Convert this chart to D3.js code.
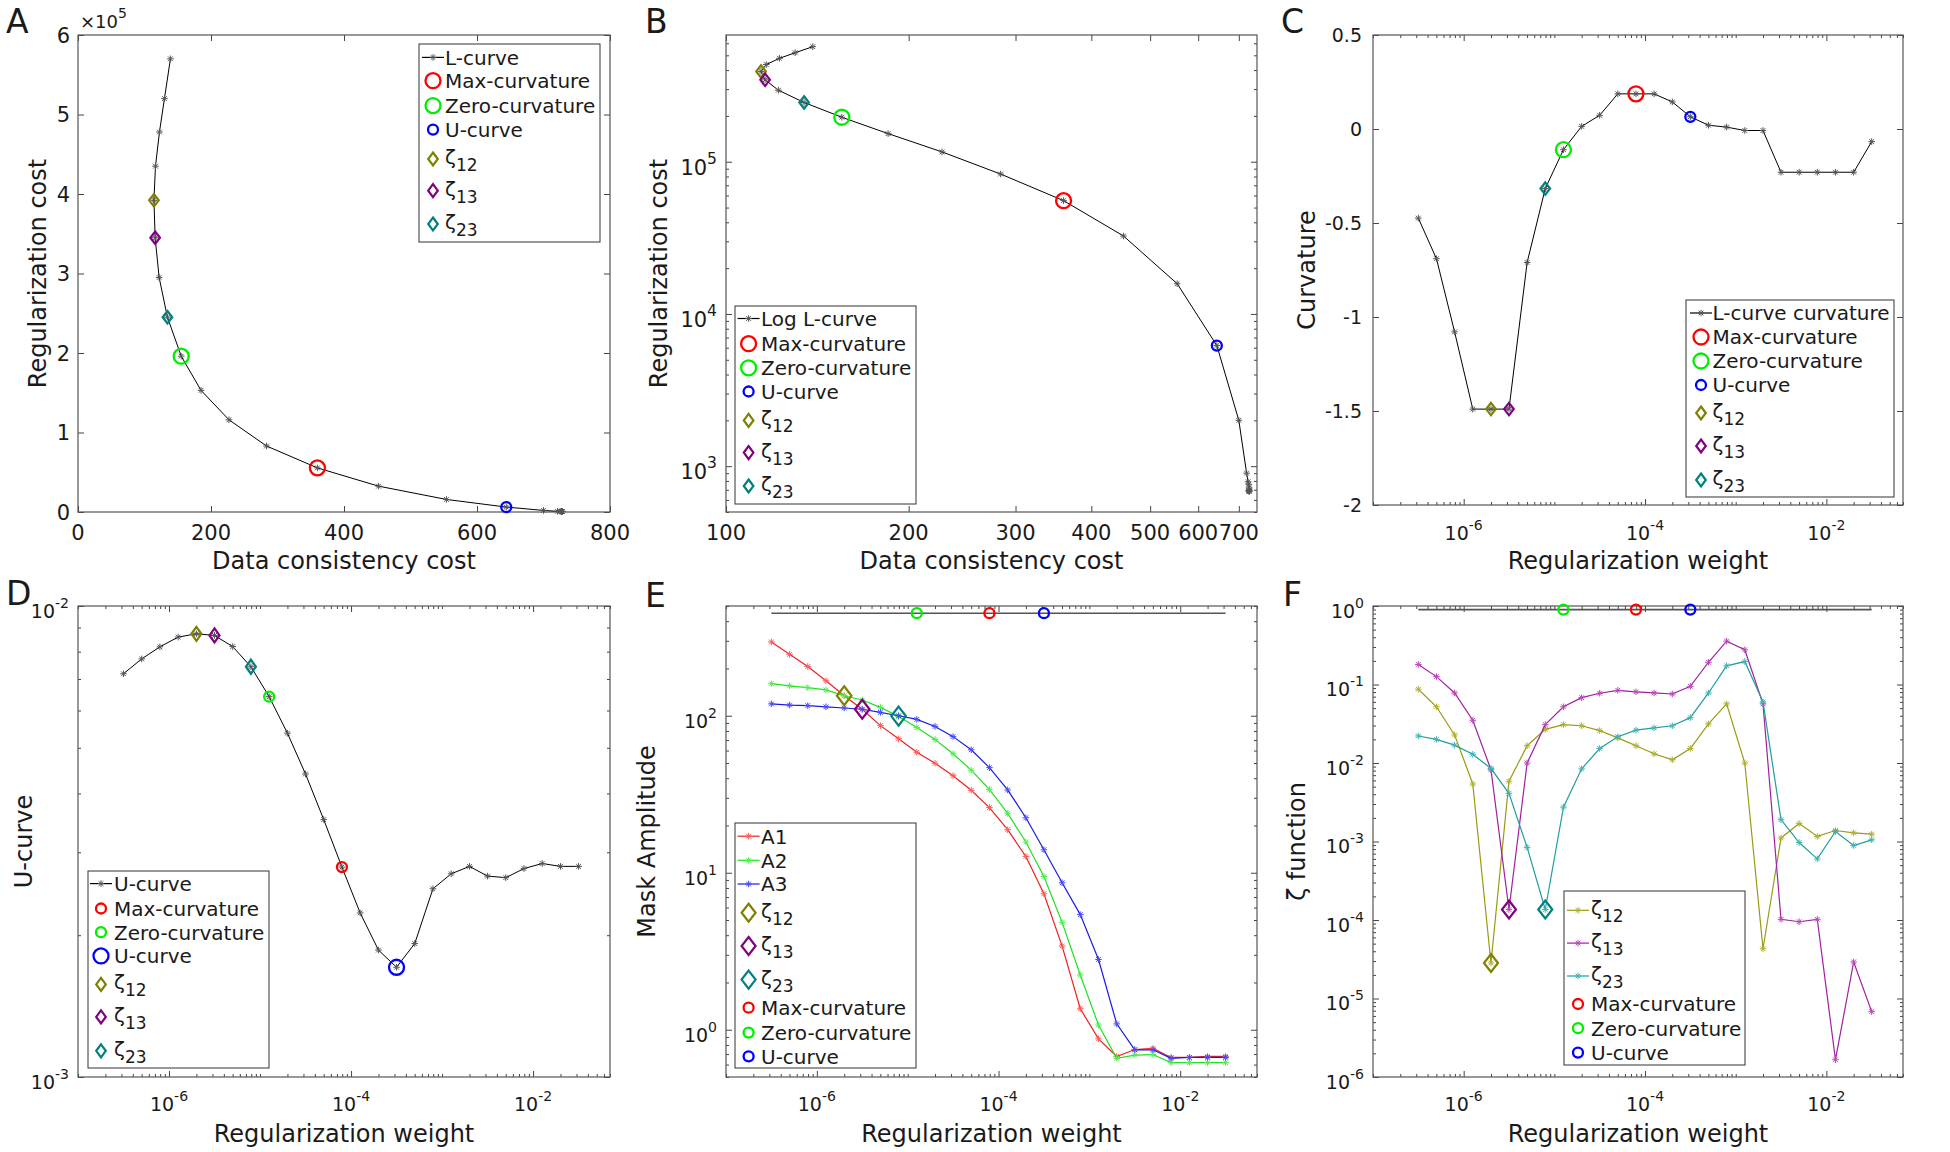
<!DOCTYPE html>
<html><head><meta charset="utf-8">
<script src="https://cdn.jsdelivr.net/npm/d3@7"></script>
<style>
body{margin:0;background:#fff}
text{font-family:"DejaVu Sans",sans-serif;fill:#1a1a1a}
</style>
</head><body>
<svg id="chart" width="1950" height="1152"></svg>
<script>
// ---------------- data ----------------
const weights = [3.16e-7, 5.01e-7, 7.94e-7, 1.26e-6, 2.00e-6, 3.16e-6, 5.01e-6, 7.94e-6, 1.26e-5, 2.00e-5, 3.16e-5, 5.01e-5, 7.94e-5, 1.26e-4, 2.00e-4, 3.16e-4, 5.01e-4, 7.94e-4, 1.26e-3, 2.00e-3, 3.16e-3, 5.01e-3, 7.94e-3, 1.26e-2, 2.00e-2, 3.16e-2];
const dataCost = [139, 130, 122.5, 116.5, 114.2, 116, 122, 134.5, 155.2, 185, 227, 283.5, 360, 452, 554, 644, 700, 721, 725, 727, 728, 728, 728, 727, 728, 728];
const regCost = [5.70e5, 5.20e5, 4.78e5, 4.35e5, 3.92e5, 3.45e5, 2.95e5, 2.45e5, 1.96e5, 1.53e5, 1.16e5, 8.3e4, 5.55e4, 3.25e4, 1.58e4, 6.2e3, 2.0e3, 900, 790, 760, 720, 700, 685, 690, 680, 690];
const curvature = [-0.474, -0.69, -1.079, -1.49, -1.49, -1.49, -0.71, -0.317, -0.11, 0.014, 0.073, 0.187, 0.187, 0.187, 0.144, 0.065, 0.02, 0.01, -0.008, -0.008, -0.23, -0.23, -0.23, -0.23, -0.23, -0.067];
const uCurve = [0.00718, 0.00772, 0.00819, 0.00859, 0.00873, 0.00866, 0.0082, 0.00743, 0.00642, 0.00537, 0.0044, 0.00352, 0.00279, 0.00223, 0.00186, 0.00171, 0.00192, 0.00251, 0.0027, 0.0028, 0.00267, 0.00265, 0.00277, 0.00284, 0.0028, 0.0028];
const ampA1 = [295, 246, 206, 167, 134, 110, 86.5, 71.3, 58.5, 49.8, 41.5, 33.5, 26.0, 18.8, 12.7, 7.35, 3.41, 1.36, 0.875, 0.676, 0.748, 0.76, 0.666, 0.666, 0.676, 0.676];
const ampA2 = [160, 155, 151, 146, 134, 126, 113, 98.9, 84.2, 70.6, 57.3, 45, 33.9, 23.9, 15.7, 9.46, 4.83, 2.23, 1.07, 0.658, 0.69, 0.695, 0.617, 0.617, 0.617, 0.617];
const ampA3 = [119, 117, 116, 114, 112, 110, 105, 100, 94.8, 85.5, 73.6, 60.7, 46.7, 33.7, 22.4, 14, 8.63, 5.41, 2.8, 1.09, 0.745, 0.745, 0.658, 0.666, 0.666, 0.666];
const zeta12 = [0.087, 0.052, 0.0228, 0.0054, 2.83e-5, 0.00585, 0.0166, 0.0268, 0.0308, 0.0298, 0.0259, 0.0209, 0.0166, 0.0131, 0.011, 0.0153, 0.0315, 0.0567, 0.01, 4.3e-5, 0.00111, 0.00169, 0.00116, 0.00138, 0.00129, 0.00124];
const zeta13 = [0.18, 0.126, 0.078, 0.035, 0.0082, 1.36e-4, 0.01, 0.0308, 0.052, 0.068, 0.0773, 0.0843, 0.0807, 0.078, 0.0757, 0.0948, 0.192, 0.357, 0.277, 0.0567, 1.02e-4, 9.5e-5, 1.02e-4, 1.66e-6, 2.92e-5, 6.8e-6];
const zeta23 = [0.0221, 0.02, 0.0169, 0.0129, 0.0085, 0.00411, 8.4e-4, 1.36e-4, 0.00274, 0.00843, 0.0153, 0.0216, 0.0262, 0.028, 0.0298, 0.0378, 0.078, 0.173, 0.196, 0.0598, 0.0019, 9.7e-4, 6e-4, 0.00134, 8.9e-4, 0.00105];
// selected indices
const iZeta12 = 4, iZeta13 = 5, iZeta23 = 7, iZero = 8, iMax = 12, iU = 15;
const markerLevelE = 450, markerLevelF = 0.9;
// tick labels
const ticksA_x = [0, 200, 400, 600, 800];
const ticksA_y = [0, 1, 2, 3, 4, 5, 6];
const ticksB_x = [100, 200, 300, 400, 500, 600, 700];
const ticksB_y = [1e3, 1e4, 1e5];
const ticksC_y = [0.5, 0, -0.5, -1, -1.5, -2];
const ticksW = [1e-6, 1e-4, 1e-2];
const ticksD_y = [1e-3, 1e-2];
const ticksE_y = [1, 10, 100];
const ticksF_y = [1e-6, 1e-5, 1e-4, 1e-3, 1e-2, 1e-1, 1];

// ---------------- styles ----------------
const RED = '#ff0000', GREEN = '#00ee00', BLUE = '#0000ff';
const OLIVE = '#808000', PURPLE = '#800080', TEAL = '#008080';
const svg = d3.select('#chart');

function logMinor(dom, majors) {
  const out = [];
  const a = Math.min(dom[0], dom[1]), b = Math.max(dom[0], dom[1]);
  for (let e = Math.floor(Math.log10(a)); e <= Math.ceil(Math.log10(b)); e++)
    for (let k = 1; k < 10; k++) {
      const v = k * Math.pow(10, e);
      if (v >= a * 0.999 && v <= b * 1.001 && !majors.some(m => Math.abs(m - v) / v < 1e-6)) out.push(v);
    }
  return out;
}

function panel(box, xType, xDom, yType, yDom) {
  const xs = (xType === 'log' ? d3.scaleLog() : d3.scaleLinear()).domain(xDom).range([box.x0, box.x1]);
  const ys = (yType === 'log' ? d3.scaleLog() : d3.scaleLinear()).domain(yDom).range([box.y1, box.y0]);
  const g = svg.append('g');
  return { g, xs, ys, box };
}

function frame(p, xMaj, xMin, yMaj, yMin) {
  const { g, xs, ys, box } = p;
  const mk = (fn, sc, vals, size, tx, ty) => {
    if (!vals.length) return;
    const a = g.append('g').attr('transform', `translate(${tx},${ty})`)
      .call(fn(sc).tickValues(vals).tickSize(size).tickFormat(''));
    a.select('.domain').remove();
    a.selectAll('text').remove();
    a.selectAll('line').attr('stroke', '#444').attr('stroke-width', 1);
  };
  mk(d3.axisBottom, xs, xMaj, -6, 0, box.y1);
  mk(d3.axisTop, xs, xMaj, -6, 0, box.y0);
  mk(d3.axisBottom, xs, xMin, -3, 0, box.y1);
  mk(d3.axisTop, xs, xMin, -3, 0, box.y0);
  mk(d3.axisLeft, ys, yMaj, -6, box.x0, 0);
  mk(d3.axisRight, ys, yMaj, -6, box.x1, 0);
  mk(d3.axisLeft, ys, yMin, -3, box.x0, 0);
  mk(d3.axisRight, ys, yMin, -3, box.x1, 0);
  g.append('rect').attr('x', box.x0).attr('y', box.y0).attr('width', box.x1 - box.x0).attr('height', box.y1 - box.y0)
    .attr('fill', 'none').attr('stroke', '#555').attr('stroke-width', 1.2);
}

function powText(g, x, y, exp, anchor, fs) {
  const t = g.append('text').attr('x', x).attr('y', y).attr('text-anchor', anchor).attr('font-size', fs);
  t.append('tspan').text('10');
  t.append('tspan').attr('dy', -fs * 0.52).attr('font-size', fs * 0.74).text(exp);
  return t;
}
const expOf = v => String(Math.round(Math.log10(v)));

function xLabelsLog(p, vals, base, fs) { vals.forEach(v => powText(p.g, p.xs(v), base, expOf(v), 'middle', fs)); }
function yLabelsLog(p, vals, fs, gap) { vals.forEach(v => powText(p.g, p.box.x0 - gap, p.ys(v) + fs * 0.62, expOf(v), 'end', fs)); }
function xLabelsLin(p, vals, base, fs, fmt) {
  vals.forEach(v => p.g.append('text').attr('x', p.xs(v)).attr('y', base).attr('text-anchor', 'middle').attr('font-size', fs).text(fmt ? fmt(v) : v));
}
function yLabelsLin(p, vals, fs, gap, fmt) {
  vals.forEach(v => p.g.append('text').attr('x', p.box.x0 - gap).attr('y', p.ys(v) + fs * 0.36).attr('text-anchor', 'end').attr('font-size', fs).text(fmt ? fmt(v) : v));
}
function axisTitles(p, xTitle, xBase, yTitle, yBase) {
  const b = p.box;
  const xt = p.g.append('text').attr('x', (b.x0 + b.x1) / 2).attr('y', xBase).attr('text-anchor', 'middle').attr('font-size', 24);
  xt.text(xTitle);
  p.g.append('text').attr('transform', `translate(${yBase},${(b.y0 + b.y1) / 2}) rotate(-90)`)
    .attr('text-anchor', 'middle').attr('font-size', 24).text(yTitle);
}
function letter(t, x, y) { svg.append('text').attr('x', x).attr('y', y).attr('font-size', 33).text(t); }

function star(g, x, y, c, r) {
  r = r || 3.3; const d = r * 0.72;
  g.append('path').attr('d', `M${x - r},${y}L${x + r},${y}M${x},${y - r}L${x},${y + r}M${x - d},${y - d}L${x + d},${y + d}M${x - d},${y + d}L${x + d},${y - d}`)
    .attr('stroke', c).attr('stroke-width', 1).attr('fill', 'none');
}
function circ(g, x, y, r, c) {
  g.append('circle').attr('cx', x).attr('cy', y).attr('r', r).attr('fill', 'none').attr('stroke', c).attr('stroke-width', 2.3);
}
function diam(g, x, y, hw, hh, c) {
  g.append('path').attr('d', `M${x},${y - hh}L${x + hw},${y}L${x},${y + hh}L${x - hw},${y}Z`)
    .attr('fill', 'none').attr('stroke', c).attr('stroke-width', 2.2);
}
function series(p, xv, yv, color, starColor, w) {
  const pts = xv.map((x, i) => [p.xs(x), p.ys(yv[i])]);
  p.g.append('path').attr('d', d3.line()(pts)).attr('fill', 'none').attr('stroke', color).attr('stroke-width', w || 1);
  pts.forEach(([x, y]) => star(p.g, x, y, starColor));
}
function sym(g, s, x, y) {
  if (s.t === 'line') {
    g.append('line').attr('x1', x - 11).attr('x2', x + 11).attr('y1', y).attr('y2', y).attr('stroke', s.c).attr('stroke-width', 1.2);
    star(g, x, y, s.sc || s.c);
  } else if (s.t === 'circle') circ(g, x, y, s.r, s.c);
  else diam(g, x, y, s.hw, s.hh, s.c);
}
function legend(p, box, sx, tx, rows) {
  const g = p.g;
  g.append('rect').attr('x', box[0]).attr('y', box[1]).attr('width', box[2] - box[0]).attr('height', box[3] - box[1])
    .attr('fill', '#fff').attr('stroke', '#333').attr('stroke-width', 1);
  rows.forEach(r => {
    sym(g, r.s, sx, r.y);
    if (r.sub) {
      const t = g.append('text').attr('x', tx).attr('y', r.y + 5).attr('font-size', 20);
      t.append('tspan').text(r.label);
      t.append('tspan').attr('dy', 7).attr('font-size', 17).text(r.sub);
    } else {
      g.append('text').attr('x', tx).attr('y', r.y + 7.3).attr('font-size', 20).text(r.label);
    }
  });
}
// standard marker sets
const bigC = r => ({ t: 'circle', r: 7.5, c: r });
const smallC = r => ({ t: 'circle', r: 5, c: r });
const dm = (c, hw, hh) => ({ t: 'diamond', c, hw: hw || 4.8, hh: hh || 6.5 });

function markPoints(p, xv, yv, circles, dsize) {
  diam(p.g, p.xs(xv[iZeta12]), p.ys(yv[iZeta12]), dsize[0], dsize[1], OLIVE);
  diam(p.g, p.xs(xv[iZeta13]), p.ys(yv[iZeta13]), dsize[0], dsize[1], PURPLE);
  diam(p.g, p.xs(xv[iZeta23]), p.ys(yv[iZeta23]), dsize[0], dsize[1], TEAL);
  circ(p.g, p.xs(xv[iMax]), p.ys(yv[iMax]), circles.max, RED);
  circ(p.g, p.xs(xv[iZero]), p.ys(yv[iZero]), circles.zero, GREEN);
  circ(p.g, p.xs(xv[iU]), p.ys(yv[iU]), circles.u, BLUE);
}

// ================= Panel A =================
const A = panel({ x0: 78, x1: 610, y0: 35, y1: 512 }, 'lin', [0, 800], 'lin', [0, 6e5]);
frame(A, ticksA_x, [], ticksA_y.map(v => v * 1e5), []);
xLabelsLin(A, ticksA_x, 540, 21);
ticksA_y.forEach(v => A.g.append('text').attr('x', A.box.x0 - 8).attr('y', A.ys(v * 1e5) + 7.5).attr('text-anchor', 'end').attr('font-size', 21).text(v));
{
  const t = A.g.append('text').attr('x', 80).attr('y', 28).attr('font-size', 18);
  t.append('tspan').text('×10');
  t.append('tspan').attr('dy', -10).attr('font-size', 14).text('5');
}
axisTitles(A, 'Data consistency cost', 569, 'Regularization cost', 46);
series(A, dataCost, regCost, '#000', '#555', 1);
markPoints(A, dataCost, regCost, { max: 7.5, zero: 7.5, u: 5 }, [4.8, 6.2]);
legend(A, [419, 44, 600, 242], 433, 445, [
  { y: 57.4, s: { t: 'line', c: '#000', sc: '#555' }, label: 'L-curve' },
  { y: 80.7, s: bigC(RED), label: 'Max-curvature' },
  { y: 105.6, s: bigC(GREEN), label: 'Zero-curvature' },
  { y: 129.6, s: smallC(BLUE), label: 'U-curve' },
  { y: 159, s: dm(OLIVE), label: 'ζ', sub: '12' },
  { y: 190.7, s: dm(PURPLE), label: 'ζ', sub: '13' },
  { y: 224, s: dm(TEAL), label: 'ζ', sub: '23' }
]);
letter('A', 6, 33);

// ================= Panel B =================
const B = panel({ x0: 726, x1: 1257, y0: 35, y1: 512 }, 'log', [100, 750], 'log', [500, 6.8e5]);
frame(B, ticksB_x, [], ticksB_y, logMinor([500, 6.8e5], ticksB_y));
xLabelsLin(B, ticksB_x, 540, 21);
yLabelsLog(B, ticksB_y, 21, 9);
axisTitles(B, 'Data consistency cost', 569, 'Regularization cost', 667);
series(B, dataCost, regCost, '#000', '#555', 1);
markPoints(B, dataCost, regCost, { max: 7.5, zero: 7.5, u: 5 }, [4.8, 6.2]);
legend(B, [735, 306, 916, 504], 748.6, 761, [
  { y: 318.5, s: { t: 'line', c: '#000', sc: '#555' }, label: 'Log L-curve' },
  { y: 343.7, s: bigC(RED), label: 'Max-curvature' },
  { y: 367.8, s: bigC(GREEN), label: 'Zero-curvature' },
  { y: 391.5, s: smallC(BLUE), label: 'U-curve' },
  { y: 420.4, s: dm(OLIVE), label: 'ζ', sub: '12' },
  { y: 452.6, s: dm(PURPLE), label: 'ζ', sub: '13' },
  { y: 486, s: dm(TEAL), label: 'ζ', sub: '23' }
]);
letter('B', 645, 33);

// ================= Panel C =================
const wDom = [1e-7, 0.07];
const wMinor = logMinor(wDom, ticksW);
const C = panel({ x0: 1373, x1: 1903, y0: 35, y1: 505 }, 'log', wDom, 'lin', [-2, 0.5]);
frame(C, ticksW, wMinor, ticksC_y, []);
xLabelsLog(C, ticksW, 540, 19);
yLabelsLin(C, ticksC_y, 19, 11);
axisTitles(C, 'Regularization weight', 569, 'Curvature', 1315);
series(C, weights, curvature, '#000', '#555', 1);
markPoints(C, weights, curvature, { max: 7.5, zero: 7.5, u: 5 }, [4.8, 6.2]);
legend(C, [1686, 300, 1894, 497], 1701, 1712.5, [
  { y: 313, s: { t: 'line', c: '#000', sc: '#555' }, label: 'L-curve curvature' },
  { y: 337, s: bigC(RED), label: 'Max-curvature' },
  { y: 361, s: bigC(GREEN), label: 'Zero-curvature' },
  { y: 385, s: smallC(BLUE), label: 'U-curve' },
  { y: 413, s: dm(OLIVE), label: 'ζ', sub: '12' },
  { y: 446, s: dm(PURPLE), label: 'ζ', sub: '13' },
  { y: 480, s: dm(TEAL), label: 'ζ', sub: '23' }
]);
letter('C', 1281, 33);

// ================= Panel D =================
const D = panel({ x0: 78, x1: 610, y0: 606, y1: 1077 }, 'log', wDom, 'log', [1e-3, 1e-2]);
frame(D, ticksW, wMinor, ticksD_y, logMinor([1e-3, 1e-2], ticksD_y));
xLabelsLog(D, ticksW, 1111, 19);
yLabelsLog(D, ticksD_y, 19, 9);
axisTitles(D, 'Regularization weight', 1142, 'U-curve', 32);
series(D, weights, uCurve, '#000', '#555', 1);
markPoints(D, weights, uCurve, { max: 5, zero: 5, u: 7.5 }, [5, 7]);
legend(D, [88, 871, 269, 1068], 101, 114, [
  { y: 883.6, s: { t: 'line', c: '#000', sc: '#555' }, label: 'U-curve' },
  { y: 908.5, s: smallC(RED), label: 'Max-curvature' },
  { y: 932.2, s: smallC(GREEN), label: 'Zero-curvature' },
  { y: 955.9, s: bigC(BLUE), label: 'U-curve' },
  { y: 984.4, s: dm(OLIVE), label: 'ζ', sub: '12' },
  { y: 1016.9, s: dm(PURPLE), label: 'ζ', sub: '13' },
  { y: 1050.8, s: dm(TEAL), label: 'ζ', sub: '23' }
]);
letter('D', 6, 605);

// ================= Panel E =================
const E = panel({ x0: 726, x1: 1257, y0: 606, y1: 1077 }, 'log', wDom, 'log', [0.5, 500]);
frame(E, ticksW, wMinor, ticksE_y, logMinor([0.5, 500], ticksE_y));
xLabelsLog(E, ticksW, 1111, 19);
yLabelsLog(E, ticksE_y, 19, 9);
axisTitles(E, 'Regularization weight', 1142, 'Mask Amplitude', 655);
E.g.append('path').attr('d', d3.line()([[E.xs(weights[0]), E.ys(markerLevelE)], [E.xs(weights[weights.length - 1]), E.ys(markerLevelE)]]))
  .attr('stroke', '#555').attr('stroke-width', 1.6).attr('fill', 'none');
series(E, weights, ampA1, '#f02020', '#ff5a5a', 1.2);
series(E, weights, ampA2, '#20e020', '#50f050', 1.2);
series(E, weights, ampA3, '#1a1ae6', '#4a4aff', 1.2);
diam(E.g, E.xs(weights[iZeta12]), E.ys(Math.sqrt(ampA1[iZeta12] * ampA2[iZeta12])), 7.3, 9.5, OLIVE);
diam(E.g, E.xs(weights[iZeta13]), E.ys(Math.sqrt(ampA1[iZeta13] * ampA3[iZeta13])), 7.3, 9.5, PURPLE);
diam(E.g, E.xs(weights[iZeta23]), E.ys(Math.sqrt(ampA2[iZeta23] * ampA3[iZeta23])), 7.3, 9.5, TEAL);
circ(E.g, E.xs(weights[iZero]), E.ys(markerLevelE), 5, GREEN);
circ(E.g, E.xs(weights[iMax]), E.ys(markerLevelE), 5, RED);
circ(E.g, E.xs(weights[iU]), E.ys(markerLevelE), 5, BLUE);
legend(E, [735, 823, 916, 1068], 748.6, 761, [
  { y: 836.2, s: { t: 'line', c: '#f02020', sc: '#ff5a5a' }, label: 'A1' },
  { y: 860.3, s: { t: 'line', c: '#20e020', sc: '#50f050' }, label: 'A2' },
  { y: 884, s: { t: 'line', c: '#1a1ae6', sc: '#4a4aff' }, label: 'A3' },
  { y: 912.8, s: dm(OLIVE, 7, 9), label: 'ζ', sub: '12' },
  { y: 946, s: dm(PURPLE, 7, 9), label: 'ζ', sub: '13' },
  { y: 979.6, s: dm(TEAL, 7, 9), label: 'ζ', sub: '23' },
  { y: 1007.7, s: smallC(RED), label: 'Max-curvature' },
  { y: 1032.6, s: smallC(GREEN), label: 'Zero-curvature' },
  { y: 1056.3, s: smallC(BLUE), label: 'U-curve' }
]);
letter('E', 645, 607);

// ================= Panel F =================
const F = panel({ x0: 1373, x1: 1903, y0: 606, y1: 1077 }, 'log', wDom, 'log', [1e-6, 1]);
frame(F, ticksW, wMinor, ticksF_y, logMinor([1e-6, 1], ticksF_y));
xLabelsLog(F, ticksW, 1111, 19);
yLabelsLog(F, ticksF_y, 19, 9);
axisTitles(F, 'Regularization weight', 1142, 'ζ function', 1305);
F.g.append('path').attr('d', d3.line()([[F.xs(weights[0]), F.ys(markerLevelF)], [F.xs(weights[weights.length - 1]), F.ys(markerLevelF)]]))
  .attr('stroke', '#555').attr('stroke-width', 1.6).attr('fill', 'none');
series(F, weights, zeta12, '#9a9a12', '#b0b030', 1.2);
series(F, weights, zeta13, '#a020a0', '#b84ab8', 1.2);
series(F, weights, zeta23, '#209e9e', '#40b4b4', 1.2);
diam(F.g, F.xs(weights[iZeta12]), F.ys(zeta12[iZeta12]), 7, 9, OLIVE);
diam(F.g, F.xs(weights[iZeta13]), F.ys(zeta13[iZeta13]), 7, 9, PURPLE);
diam(F.g, F.xs(weights[iZeta23]), F.ys(zeta23[iZeta23]), 7, 9, TEAL);
circ(F.g, F.xs(weights[iZero]), F.ys(markerLevelF), 5, GREEN);
circ(F.g, F.xs(weights[iMax]), F.ys(markerLevelF), 5, RED);
circ(F.g, F.xs(weights[iU]), F.ys(markerLevelF), 5, BLUE);
legend(F, [1564, 891, 1745, 1065], 1578, 1591, [
  { y: 910.3, s: { t: 'line', c: '#9a9a12', sc: '#b0b030' }, label: 'ζ', sub: '12' },
  { y: 943.1, s: { t: 'line', c: '#a020a0', sc: '#b84ab8' }, label: 'ζ', sub: '13' },
  { y: 976, s: { t: 'line', c: '#209e9e', sc: '#40b4b4' }, label: 'ζ', sub: '23' },
  { y: 1004, s: smallC(RED), label: 'Max-curvature' },
  { y: 1028.2, s: smallC(GREEN), label: 'Zero-curvature' },
  { y: 1052.6, s: smallC(BLUE), label: 'U-curve' }
]);
letter('F', 1283, 606);
</script>
</body></html>
